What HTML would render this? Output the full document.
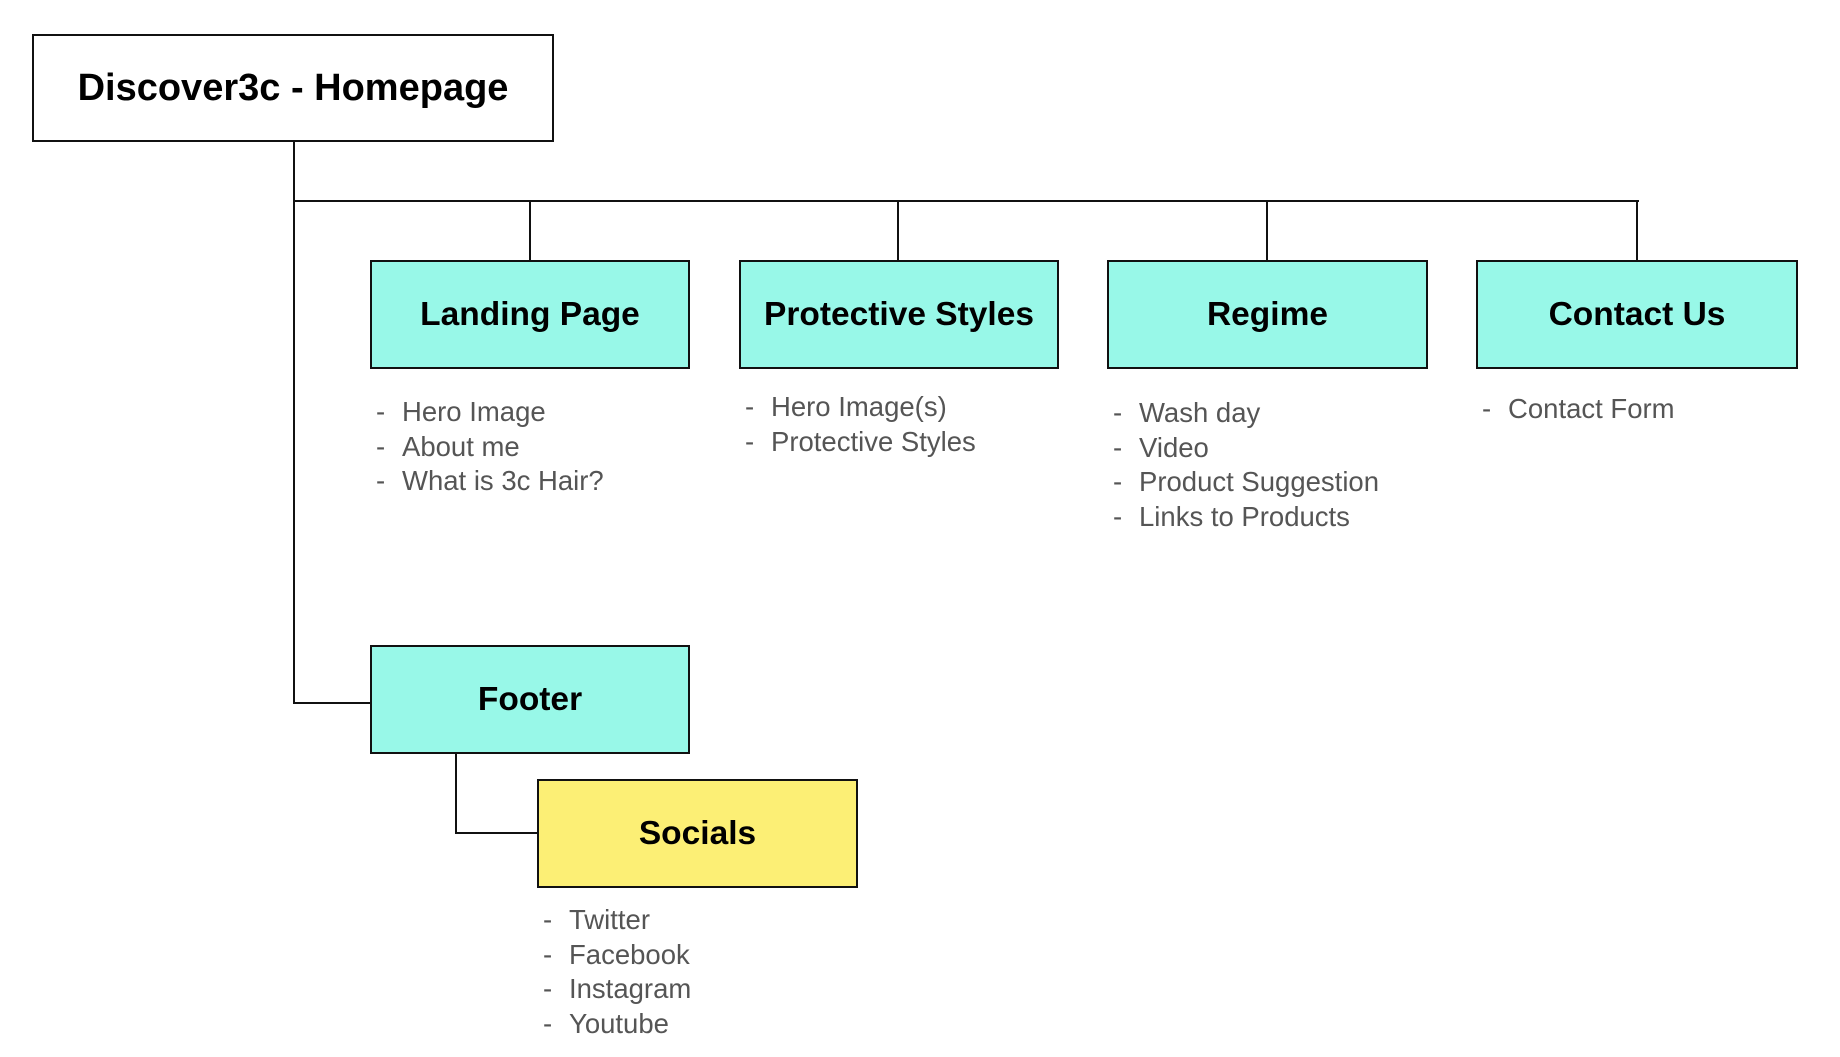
<!DOCTYPE html>
<html><head><meta charset="utf-8"><style>
body{margin:0;width:1840px;height:1057px;background:#fff;position:relative;overflow:hidden;font-family:"Liberation Sans",Arial,sans-serif}
.b{position:absolute;box-sizing:border-box;border:2px solid #111;display:flex;align-items:center;justify-content:center;font-weight:bold;font-size:33.5px;color:#000}
.c{background:#98f8e8}
.y{background:#fcef75}
.l{position:absolute;box-sizing:border-box;background:#111}
.t{position:absolute;font-size:27.5px;color:#555;line-height:34.6px;white-space:pre}
.t div{position:relative;padding-left:26px}
.t div:before{content:"-";position:absolute;left:0}
</style></head><body>
<div class="b" style="left:32px;top:34px;width:522px;height:108px;background:#fff;font-size:38px">Discover3c - Homepage</div>
<div class="l" style="left:293px;top:141px;width:2px;height:563px"></div>
<div class="l" style="left:293px;top:200px;width:1346px;height:2px"></div>
<div class="l" style="left:529px;top:200px;width:2px;height:60px"></div>
<div class="l" style="left:897px;top:200px;width:2px;height:60px"></div>
<div class="l" style="left:1266px;top:200px;width:2px;height:60px"></div>
<div class="l" style="left:1636px;top:200px;width:2px;height:60px"></div>
<div class="b c" style="left:370px;top:260px;width:320px;height:109px">Landing Page</div>
<div class="b c" style="left:739px;top:260px;width:320px;height:109px">Protective Styles</div>
<div class="b c" style="left:1107px;top:260px;width:321px;height:109px">Regime</div>
<div class="b c" style="left:1476px;top:260px;width:322px;height:109px">Contact Us</div>
<div class="l" style="left:293px;top:702px;width:78px;height:2px"></div>
<div class="b c" style="left:370px;top:645px;width:320px;height:109px">Footer</div>
<div class="l" style="left:455px;top:754px;width:2px;height:80px"></div>
<div class="l" style="left:455px;top:832px;width:83px;height:2px"></div>
<div class="b y" style="left:537px;top:779px;width:321px;height:109px">Socials</div>
<div class="t" style="left:376px;top:395px"><div>Hero Image</div><div>About me</div><div>What is 3c Hair?</div></div>
<div class="t" style="left:745px;top:390px"><div>Hero Image(s)</div><div>Protective Styles</div></div>
<div class="t" style="left:1113px;top:396px"><div>Wash day</div><div>Video</div><div>Product Suggestion</div><div>Links to Products</div></div>
<div class="t" style="left:1482px;top:392px"><div>Contact Form</div></div>
<div class="t" style="left:543px;top:903px"><div>Twitter</div><div>Facebook</div><div>Instagram</div><div>Youtube</div></div>
</body></html>
